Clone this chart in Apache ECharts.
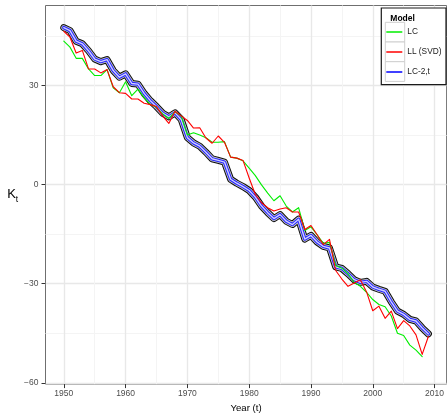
<!DOCTYPE html>
<html>
<head>
<meta charset="utf-8">
<script src="https://cdn.jsdelivr.net/npm/echarts@6/dist/echarts.min.js"></script>
<style>
  html, body { margin: 0; padding: 0; background: #ffffff; }
  #chart { width: 447px; height: 418px; }
</style>
</head>
<body>
<div id="chart"></div>
<script>
// Years of the mortality index K_t
const years = [
  1950, 1951, 1952, 1953, 1954, 1955, 1956, 1957, 1958, 1959,
  1960, 1961, 1962, 1963, 1964, 1965, 1966, 1967, 1968, 1969,
  1970, 1971, 1972, 1973, 1974, 1975, 1976, 1977, 1978, 1979,
  1980, 1981, 1982, 1983, 1984, 1985, 1986, 1987, 1988, 1989,
  1990, 1991, 1992, 1993, 1994, 1995, 1996, 1997, 1998, 1999,
  2000, 2001, 2002, 2003, 2004, 2005, 2006, 2007, 2008, 2009
];

// Lee-Carter estimate (ends in 2008)
const lc = [
  43.4, 41.6, 38.2, 38.2, 35.0, 33.0, 33.0, 34.8, 29.3, 27.8,
  31.1, 26.9, 28.9, 26.3, 24.3, 23.4, 21.4, 20.0, 22.0, 20.7,
  15.0, 15.7, 15.0, 14.2, 12.8, 12.8, 13.0, 8.3, 8.0, 7.2,
  5.0, 2.7, -0.1, -2.6, -4.9, -3.4, -6.5, -8.3, -7.0, -13.9,
  -12.8, -15.2, -17.8, -17.5, -24.5, -25.3, -27.0, -29.6, -30.8, -32.6,
  -34.8, -36.3, -37.0, -39.8, -45.0, -45.7, -48.6, -50.1, -52.1, null
];

// Local-level (SVD) estimate
const llSvd = [
  46.4, 44.6, 39.8, 40.6, 35.0, 35.0, 33.8, 34.8, 29.6, 27.8,
  27.6, 25.9, 25.9, 24.6, 24.2, 23.6, 20.8, 18.5, 22.2, 20.8,
  19.4, 17.1, 17.2, 14.1, 12.5, 14.7, 12.8, 8.3, 8.0, 7.3,
  2.0, -3.0, -5.5, -7.0, -8.0, -7.4, -7.0, -8.3, -8.3, -13.6,
  -12.4, -15.2, -18.2, -16.6, -26.0, -28.6, -30.8, -29.8, -28.8, -32.5,
  -38.2, -36.8, -40.5, -38.3, -43.6, -41.2, -42.8, -45.5, -51.4, -46.0
];

// LC-2,t estimate
const lc2t = [
  47.5, 46.6, 43.4, 42.6, 40.5, 38.0, 37.2, 37.8, 34.5, 32.5,
  33.5, 30.6, 30.4, 27.6, 25.4, 23.6, 21.6, 20.5, 21.7, 19.7,
  14.2, 12.6, 11.6, 9.8, 7.8, 7.3, 6.8, 1.6, 0.4, -0.6,
  -1.8, -3.8, -6.5, -8.5, -10.3, -9.1, -11.1, -12.1, -10.5, -16.5,
  -15.4, -17.4, -18.7, -19.2, -24.9, -25.4, -27.0, -28.8, -29.6, -29.3,
  -31.0, -31.7, -32.3, -35.5, -38.3, -39.3, -40.8, -41.3, -43.4, -45.2
];

// Axis ticks
const xMajorTicks = [1950, 1960, 1970, 1980, 1990, 2000, 2010];
const xMinorTicks = [1955, 1965, 1975, 1985, 1995, 2005];
const yMajorTicks = [-60, -30, 0, 30];
const yMinorTicks = [-45, -15, 15, 45];

const modelNames = ['LC', 'LL (SVD)', 'LC-2,t'];
const modelColors = ['#00ee00', '#ff0000', '#0000ff'];

const FONT = '"Liberation Sans", Arial, Helvetica, sans-serif';

const pairs = vals => years.map((y, i) => [y, vals[i]]);
const plainNumber = v => (v < 0 ? '\u2212' + Math.abs(v) : String(v));

function lineSeries(name, vals, color, width, z) {
  return {
    name: name,
    type: 'line',
    data: pairs(vals),
    showSymbol: false,
    symbol: 'none',
    color: color,
    lineStyle: { color: color, width: width, join: 'round', cap: 'round' },
    silent: true,
    z: z,
    connectNulls: false
  };
}

const chart = echarts.init(document.getElementById('chart'), null, { renderer: 'canvas' });

const gridLine = '#e8e8e8';
const gridMinor = '#f4f4f4';

chart.setOption({
  animation: false,
  backgroundColor: '#ffffff',
  textStyle: { fontFamily: FONT },
  grid: {
    left: 45.5, right: -1.7, top: 5.5, bottom: 26.5,
    show: true, borderColor: '#6f6f6f', borderWidth: 1, backgroundColor: 'transparent'
  },
  xAxis: [
    {
      type: 'value', min: 1947.04, max: 2011.95, position: 'bottom',
      name: 'Year (t)', nameLocation: 'middle', nameGap: 15,
      nameTextStyle: { fontSize: 9.6, color: '#000000', fontFamily: FONT, verticalAlign: 'top' },
      axisLine: { show: false, onZero: false },
      axisTick: { show: true, length: 4, customValues: xMajorTicks, lineStyle: { color: '#333333', width: 1 } },
      axisLabel: { customValues: xMajorTicks, margin: 5, fontSize: 8.5, color: '#4d4d4d', fontFamily: FONT,
        formatter: plainNumber },
      splitLine: { show: true, lineStyle: { color: gridLine, width: 1.4 } }
    },
    {
      type: 'value', min: 1947.04, max: 2011.95, position: 'top',
      axisLine: { show: false, onZero: false },
      axisTick: { show: false, customValues: xMinorTicks },
      axisLabel: { show: false, customValues: xMinorTicks },
      splitLine: { show: true, lineStyle: { color: gridMinor, width: 1 } }
    }
  ],
  yAxis: [
    {
      type: 'value', min: -60.4, max: 54.2, position: 'left',
      name: '{k|K}{t|t}', nameLocation: 'middle', nameGap: 24, nameRotate: 0,
      nameTextStyle: {
        color: '#000000',
        rich: {
          k: { fontSize: 13, lineHeight: 18, fontFamily: FONT, color: '#000000' },
          t: { fontSize: 8.5, lineHeight: 8, verticalAlign: 'bottom', fontFamily: FONT, color: '#000000' }
        }
      },
      axisLine: { show: false, onZero: false },
      axisTick: { show: true, length: 4, customValues: yMajorTicks, lineStyle: { color: '#333333', width: 1 } },
      axisLabel: { customValues: yMajorTicks, margin: 7, fontSize: 8.5, color: '#4d4d4d', fontFamily: FONT,
        formatter: plainNumber },
      splitLine: { show: true, lineStyle: { color: gridLine, width: 1.4 } }
    },
    {
      type: 'value', min: -60.4, max: 54.2, position: 'right',
      axisLine: { show: false, onZero: false },
      axisTick: { show: false, customValues: yMinorTicks },
      axisLabel: { show: false, customValues: yMinorTicks },
      splitLine: { show: true, lineStyle: { color: gridMinor, width: 1 } }
    }
  ],
  title: {
    text: 'Model', left: 385.3, top: 9, z: 30,
    textStyle: { fontSize: 8.5, fontWeight: 'bold', color: '#000000', fontFamily: FONT }
  },
  legend: {
    orient: 'vertical', left: 386.3, top: 22, padding: 0, itemGap: 0,
    itemWidth: 16, itemHeight: 1.5, z: 30,
    selectedMode: false,
    textStyle: { fontSize: 8.3, color: '#1a1a1a', fontFamily: FONT, lineHeight: 20 },
    data: modelNames.map((n, i) => ({ name: n, icon: 'rect', itemStyle: { color: modelColors[i] } }))
  },
  graphic: [
    { type: 'rect', z: 20, shape: { x: 381.3, y: 8, width: 64.7, height: 76.7 },
      style: { fill: '#ffffff', stroke: '#1a1a1a', lineWidth: 1.2 } },
    { type: 'rect', z: 21, shape: { x: 385.3, y: 22.3, width: 19.4, height: 19.7 },
      style: { fill: '#ffffff', stroke: '#cfcfcf', lineWidth: 1 } },
    { type: 'rect', z: 21, shape: { x: 385.3, y: 42, width: 19.4, height: 19.7 },
      style: { fill: '#ffffff', stroke: '#cfcfcf', lineWidth: 1 } },
    { type: 'rect', z: 21, shape: { x: 385.3, y: 61.7, width: 19.4, height: 19.7 },
      style: { fill: '#ffffff', stroke: '#cfcfcf', lineWidth: 1 } }
  ],
  series: [
    // layered outline of the LC-2,t estimate: dark edges, pale gap, blue body, light core
    lineSeries('LC-2,t edge', lc2t, '#0d0d0d', 7.0, 2),
    lineSeries('LC-2,t gap', lc2t, '#c9c9cc', 5.0, 3),
    lineSeries('LC-2,t', lc2t, '#2424ff', 3.4, 4),
    lineSeries('LC-2,t core', lc2t, '#cfcfff', 1.4, 5),
    lineSeries('LC', lc, modelColors[0], 1.1, 6),
    lineSeries('LL (SVD)', llSvd, modelColors[1], 1.1, 7)
  ]
});
</script>
</body>
</html>
